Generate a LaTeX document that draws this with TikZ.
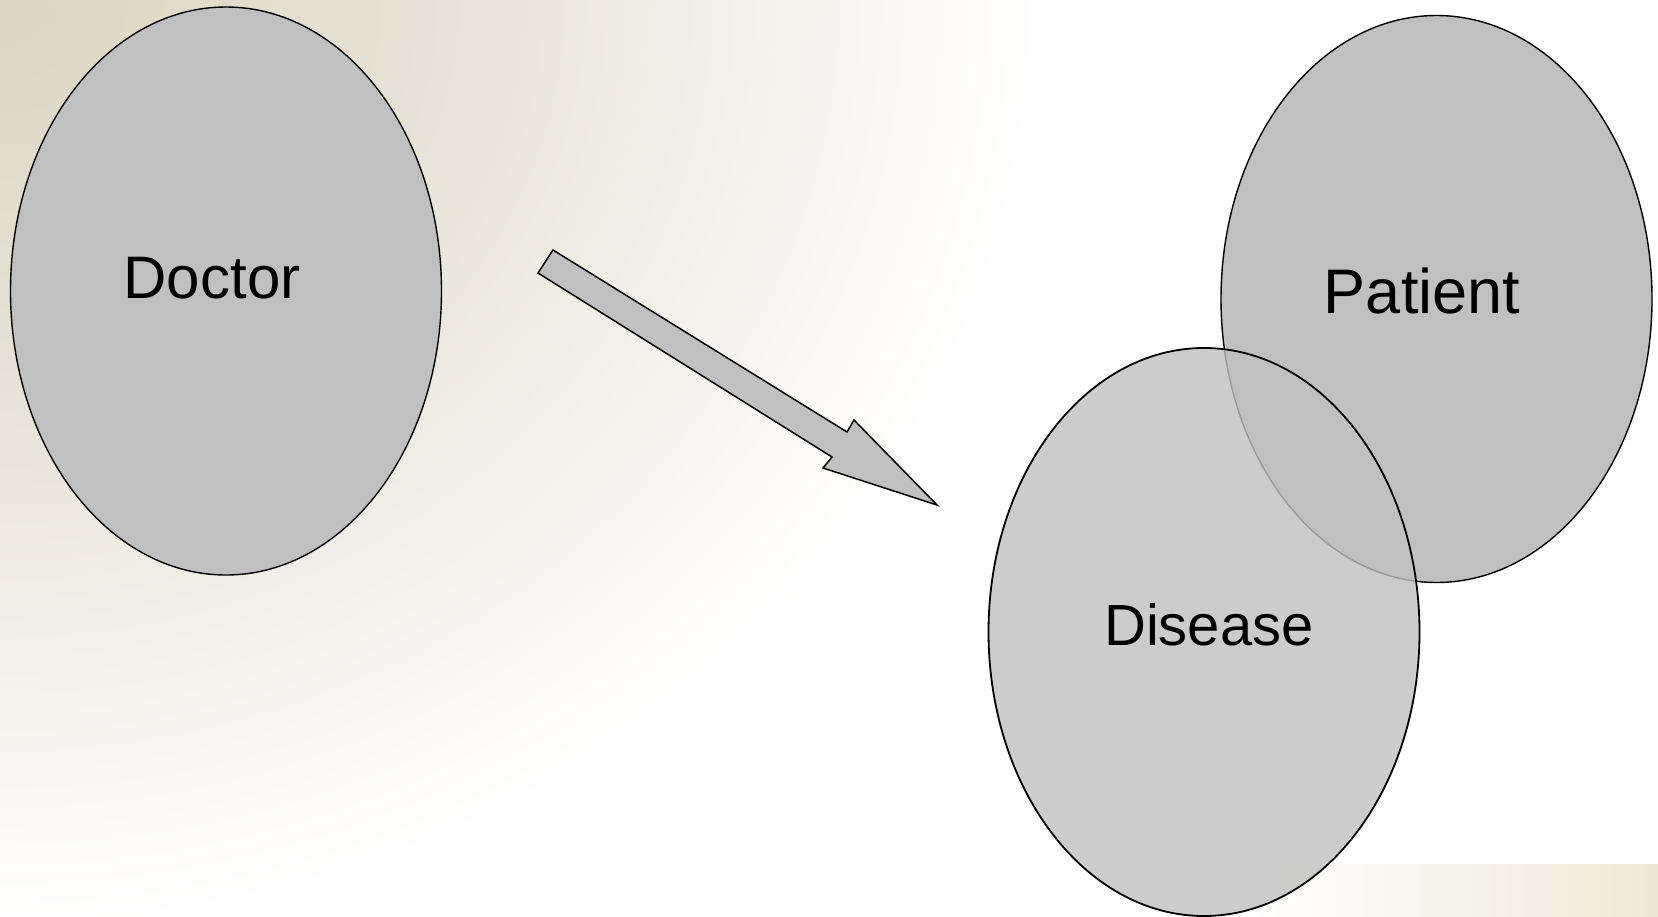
\documentclass[tikz,border=0pt]{standalone}
\usepackage{fontspec}
\setmainfont{Liberation Sans}
\usetikzlibrary{positioning, shapes.geometric}
\definecolor{glowdark}{HTML}{DDD6C4}
\definecolor{stripbeige}{HTML}{EEE8D6}
\definecolor{blobgray}{HTML}{C0C0C0}
\pgfdeclareradialshading{cornerglow}{\pgfpoint{0bp}{0bp}}{color(0bp)=(glowdark); color(10bp)=(glowdark!72!white); color(25bp)=(white); color(50bp)=(white)}

\begin{document}
\begin{tikzpicture}[
        x=0.5pt, y=-0.5pt,
        blob/.style={ellipse, draw, line width=0.7pt, fill=blobgray, minimum width=215.5pt, minimum height=284pt, inner sep=0pt},
        word/.style={inner sep=0pt, font=\fontsize{#1}{#1}\selectfont},
        blockarrow/.style={draw, line width=0.75pt, fill=blobgray, line join=miter}
    ]
    \useasboundingbox (0,0) rectangle (1658,916);
    \begin{scope}
        \clip (0,0) rectangle (1658,916);
        \fill[white] (0,0) rectangle (1658,916);
        \shade[shading=cornerglow] (0,0) ellipse[x radius=1040, y radius=930];
        \shade[left color=white, right color=stripbeige] (1250,864) rectangle (1658,916);
    \end{scope}
    \node[blob] (doctor) at (226,291) {};
    \node[blob, minimum height=283.5pt] (patient) at (1436.5,299) {};
    \node[blob, fill opacity=0.8, line width=0.9pt] (disease) at (1204,632) {};
    \node[word=30pt] (doctortext) at (212,278) {Doctor};
    \node[word=31.5pt] (patienttext) at (1422,291) {Patient};
    \node[word=29pt] (diseasetext) at (1209,625) {Disease};
    \draw[blockarrow] (553,250) -- (538,273) -- (832,457) -- (823,468) -- (937,505) -- (854,420) -- (847,432) -- cycle;
\end{tikzpicture}
\end{document}
